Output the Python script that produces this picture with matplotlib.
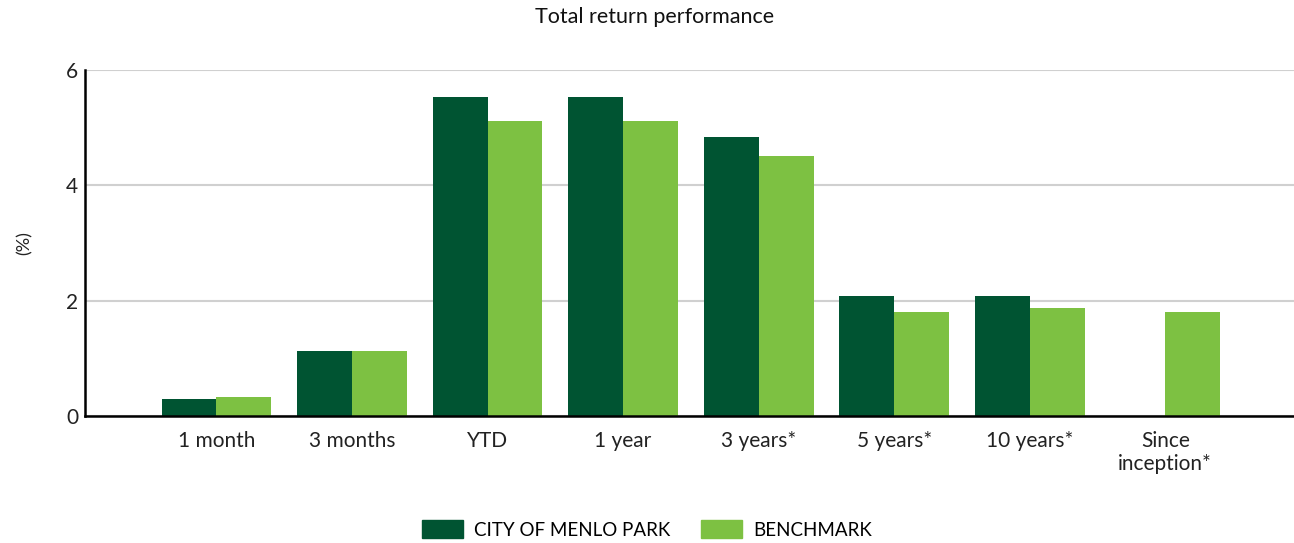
import numpy as np
import matplotlib
matplotlib.use('Agg')
import matplotlib.pyplot as plt
from matplotlib.patches import Patch

plt.rcParams['font.family'] = ['Lato', 'DejaVu Sans']

# Data
categories = ['1 month', '3 months', 'YTD', '1 year', '3 years*', '5 years*',
              '10 years*', 'Since\ninception*']
city = [0.29, 1.13, 5.53, 5.53, 4.84, 2.08, 2.08, np.nan]
benchmark = [0.33, 1.13, 5.11, 5.11, 4.51, 1.80, 1.87, 1.80]
yticks = [0, 2, 4, 6]

dark = '#005432'
light = '#7dc142'

fig = plt.figure(figsize=(12.94, 5.43), dpi=100)
ax = fig.add_axes([0.0657, 0.234, 0.9343, 0.637])

x = np.arange(len(categories))
w = 0.405
ax.bar(x - w / 2, city, width=w, color=dark, zorder=3)
ax.bar(x + w / 2, benchmark, width=w, color=light, zorder=3)

ax.set_xlim(-0.97, 7.95)
ax.set_ylim(0, 6)
ax.set_yticks(yticks)
ax.set_xticks(x)
ax.set_xticklabels(categories, fontsize=15, color='#222222', va='top',
                   linespacing=1.15)
ax.tick_params(axis='x', length=0, pad=11)
ax.tick_params(axis='y', length=0, pad=5, labelsize=15, labelcolor='#222222')
ax.grid(axis='y', color='#d0d0d0', linewidth=1.5, zorder=0)

for s in ['top', 'right']:
    ax.spines[s].set_visible(False)
for s in ['left', 'bottom']:
    ax.spines[s].set_color('black')
    ax.spines[s].set_linewidth(1.8)
    ax.spines[s].set_zorder(4)

ax.set_ylabel('(%)', fontsize=13, color='#222222', labelpad=24)

fig.text(0.506, 0.968, 'Total return performance', ha='center', va='center',
         fontsize=15.5, color='#111111')

handles = [Patch(color=dark, label='CITY OF MENLO PARK'),
           Patch(color=light, label='BENCHMARK')]
fig.legend(handles=handles, loc='center', bbox_to_anchor=(0.5, 0.025), ncol=2,
           frameon=False, fontsize=13.5, handlelength=2.2, handleheight=1.1,
           columnspacing=1.6, handletextpad=0.6)

fig.savefig('out.png', dpi=100)
